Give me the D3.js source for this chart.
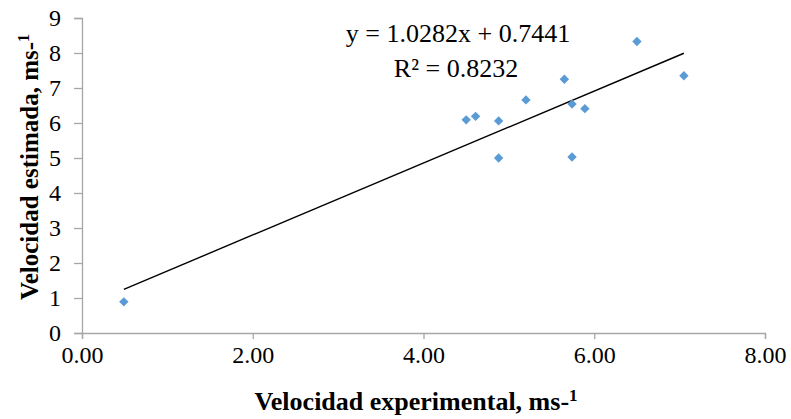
<!DOCTYPE html>
<html>
<head>
<meta charset="utf-8">
<script src="https://cdn.jsdelivr.net/npm/d3@7"></script>
<style>
  body { margin: 0; background: #fff; }
  svg text { font-family: "Liberation Serif", Times, "Times New Roman", "DejaVu Serif", serif !important; }
</style>
</head>
<body>
<div class="chart"></div>
<script>
// data
const expVel = [0.49, 4.50, 4.61, 4.88, 4.88, 5.20, 5.65, 5.74, 5.74, 5.89, 6.50, 7.05]
const estVel = [0.89, 6.09, 6.19, 6.06, 5.00, 6.66, 7.25, 6.54, 5.03, 6.41, 8.33, 7.35]
const xTicks = [0, 2, 4, 6, 8]
const yTicks = [0, 1, 2, 3, 4, 5, 6, 7, 8, 9]
const slope = 1.0282
const intercept = 0.7441
const r2 = 0.8232

const width = 791
const height = 419
const margin = { left: 82, right: 26, top: 18, bottom: 86 }

const svg = d3.select(".chart")
  .append("svg")
  .attr("width", width)
  .attr("height", height)

const x = d3.scaleLinear().domain([0, 8]).range([margin.left, width - margin.right])
const y = d3.scaleLinear().domain([0, 9]).range([height - margin.bottom, margin.top])

// axes
const xAxis = svg.append("g")
  .attr("transform", `translate(0,${y(0)})`)
  .call(d3.axisBottom(x).tickValues(xTicks).tickFormat(d3.format(".2f")).tickSize(6).tickPadding(7))
const yAxis = svg.append("g")
  .attr("transform", `translate(${x(0)},0)`)
  .call(d3.axisLeft(y).tickValues(yTicks).tickFormat(d3.format("d")).tickSize(8).tickPadding(13))

for (const ax of [xAxis, yAxis]) {
  ax.attr("font-family", "Liberation Serif").attr("font-size", 24)
  ax.select(".domain").attr("stroke", "#a6a6a6").attr("stroke-width", 1.3)
  ax.selectAll(".tick line").attr("stroke", "#a6a6a6").attr("stroke-width", 1.3)
  ax.selectAll(".tick text")
    .attr("fill", "#000")
    .attr("font-family", "Liberation Serif")
    .attr("font-size", 24)
}

// trendline over the data range
const xs = d3.extent(expVel)
svg.append("line")
  .attr("x1", x(xs[0])).attr("y1", y(slope * xs[0] + intercept))
  .attr("x2", x(xs[1])).attr("y2", y(slope * xs[1] + intercept))
  .attr("stroke", "#000")
  .attr("stroke-width", 1.4)

// points
const pts = expVel.map((d, i) => [d, estVel[i]])
svg.selectAll("path.pt")
  .data(pts)
  .enter()
  .append("path")
    .attr("class", "pt")
    .attr("d", d3.symbol(d3.symbolSquare, 44))
    .attr("transform", d => `translate(${x(d[0])},${y(d[1])}) rotate(45)`)
    .attr("fill", "#5b9bd5")

// equation
svg.append("text")
  .attr("x", 458).attr("y", 42)
  .attr("text-anchor", "middle")
  .style("font-size", "26px")
  .text(`y = ${slope}x + ${intercept}`)
svg.append("text")
  .attr("x", 456).attr("y", 77)
  .attr("text-anchor", "middle")
  .style("font-size", "26px")
  .text(`R² = ${r2}`)

// axis titles
const xt = svg.append("text")
  .attr("x", 416).attr("y", 410)
  .attr("text-anchor", "middle")
  .style("font-size", "26px")
  .style("font-weight", "bold")
xt.append("tspan").text("Velocidad experimental, ms-")
xt.append("tspan").attr("dy", -9).style("font-size", "17px").text("1")

const yt = svg.append("text")
  .attr("transform", "translate(38,167) rotate(-90)")
  .attr("text-anchor", "middle")
  .style("font-size", "25px")
  .style("font-weight", "bold")
yt.append("tspan").text("Velocidad estimada, ms-")
yt.append("tspan").attr("dy", -9).style("font-size", "16px").text("1")
</script>
</body>
</html>
